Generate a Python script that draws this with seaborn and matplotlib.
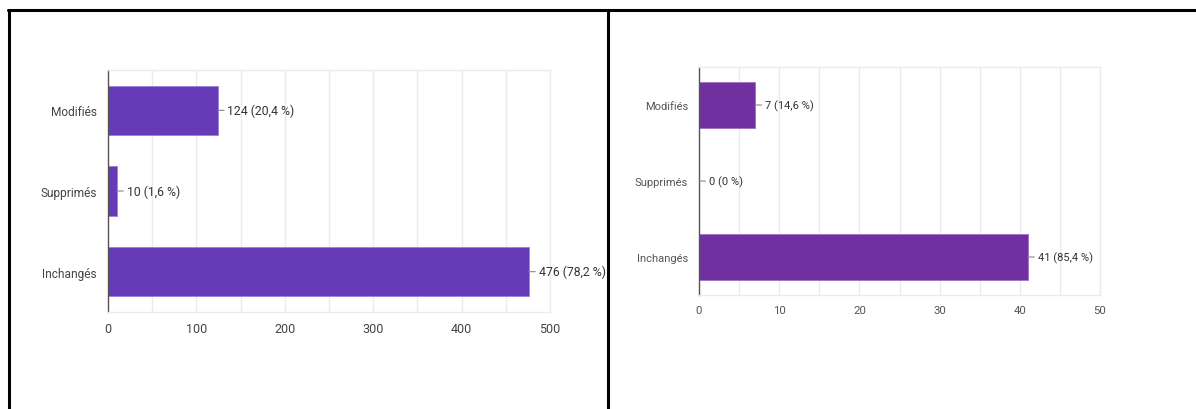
import matplotlib
matplotlib.use("Agg")
import matplotlib.pyplot as plt
import seaborn as sns
import pandas as pd
from matplotlib.lines import Line2D
from matplotlib.ticker import MultipleLocator

sns.set_theme(style="white")
plt.rcParams['font.family'] = ['Roboto', 'DejaVu Sans']

categories = ["Modifiés", "Supprimés", "Inchangés"]
left_values = [124, 10, 476]
left_pct = ["20,4", "1,6", "78,2"]
right_values = [7, 0, 41]
right_pct = ["14,6", "0", "85,4"]
left_ticks = [0, 100, 200, 300, 400, 500]
right_ticks = [0, 10, 20, 30, 40, 50]

W, H = 1196, 410
fig = plt.figure(figsize=(W / 100, H / 100), dpi=100)


def px_axes(x0, y0, x1, y1):
    return fig.add_axes([x0 / W, 1 - y1 / H, (x1 - x0) / W, (y1 - y0) / H])


def draw(ax, values, pcts, ticks, color, edge, minor, fs_y, fs_x, fs_a, tcol):
    df = pd.DataFrame({"cat": categories, "val": values})
    sns.barplot(data=df, y="cat", x="val", orient="h", color=color,
                saturation=1, width=0.61, ax=ax, edgecolor=edge,
                linewidth=0.6)
    ax.set_xlim(ticks[0], ticks[-1])
    ax.set_ylim(2.5, -0.5)
    ax.set_xticks(ticks)
    ax.xaxis.set_minor_locator(MultipleLocator(minor))
    ax.grid(True, axis="x", which="both", color="#ebebeb", lw=1)
    ax.set_axisbelow(True)
    ax.set_xlabel("")
    ax.set_ylabel("")
    for s in ["top", "bottom", "right"]:
        ax.spines[s].set_color("#ebebeb")
        ax.spines[s].set_linewidth(1)
    ax.spines["left"].set_color("#555555")
    ax.spines["left"].set_linewidth(1)
    ax.tick_params(axis="both", length=0, colors=tcol)
    ax.tick_params(axis="y", pad=8, labelsize=fs_y)
    ax.tick_params(axis="x", pad=7, labelsize=fs_x)
    for i, (v, p) in enumerate(zip(values, pcts)):
        ax.annotate(f"{v} ({p} %)", xy=(v, i), xytext=(7, 0),
                    textcoords="offset points", ha="left", va="center",
                    fontsize=fs_a, color="#333333",
                    arrowprops=dict(arrowstyle="-", color="#888888", lw=0.8,
                                    shrinkA=0, shrinkB=0))


ax1 = px_axes(108, 71, 550, 313)
draw(ax1, left_values, left_pct, left_ticks, "#673AB7", "#9a80d8", 50,
     8.6, 9, 8.8, "#444444")

ax2 = px_axes(699, 68, 1100, 296)
draw(ax2, right_values, right_pct, right_ticks, "#7030A0", "#a070c8", 5,
     8.0, 8.2, 8.0, "#555555")

# frame lines
lw = 2.2
fig.add_artist(Line2D([8 / W, 1], [1 - 11 / H, 1 - 11 / H], color="black", lw=lw))
fig.add_artist(Line2D([9 / W, 9 / W], [0, 1 - 11 / H], color="black", lw=lw))
fig.add_artist(Line2D([608 / W, 608 / W], [0, 1 - 11 / H], color="black", lw=lw))

fig.savefig("out.png", dpi=100, facecolor="white")
